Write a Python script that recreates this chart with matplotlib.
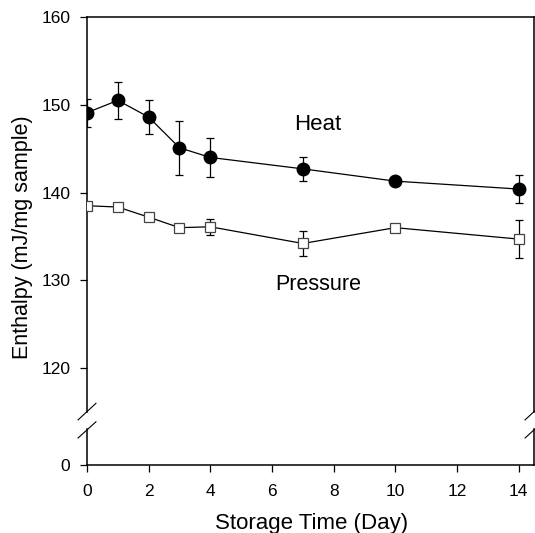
import matplotlib.pyplot as plt
import numpy as np

plt.rcParams['font.family'] = ['Liberation Sans', 'DejaVu Sans']

days = np.array([0, 1, 2, 3, 4, 7, 10, 14])

heat = np.array([149.1, 150.5, 148.6, 145.1, 144.0, 142.7, 141.3, 140.4])
heat_err = np.array([1.6, 2.1, 1.95, 3.05, 2.2, 1.4, 0.3, 1.55])

pressure = np.array([138.5, 138.35, 137.2, 136.0, 136.1, 134.2, 136.0, 134.7])
pressure_err = np.array([0.3, 0.3, 0.4, 0.4, 0.9, 1.4, 0.3, 2.15])

fig = plt.figure(figsize=(5.35, 5.33), dpi=100)
W, H = 535, 533
left, right = 87 / W, 534 / W
ax = fig.add_axes([left, 1 - 412 / H, right - left, (412 - 17) / H])
ax2 = fig.add_axes([left, 1 - 465 / H, right - left, (465 - 429) / H])

ax.errorbar(days, heat, yerr=heat_err, fmt='-o', color='black', lw=0.9,
            ms=9, mfc='black', mec='black', ecolor='black', elinewidth=0.9,
            capsize=3, capthick=0.9, zorder=3)
ax.errorbar(days, pressure, yerr=pressure_err, fmt='-s', color='black', lw=0.9,
            ms=7.5, mfc='white', mec='#444444', mew=0.9, ecolor='black',
            elinewidth=0.9, capsize=3, capthick=0.9, zorder=3)

ax.set_xlim(0, 14.5)
ax.set_ylim(115, 160)
ax.set_yticks([120, 130, 140, 150, 160])
ax.spines['bottom'].set_visible(False)
ax.tick_params(axis='x', bottom=False, labelbottom=False)
ax.tick_params(axis='y', direction='out', length=5, width=0.9, labelsize=12.5, pad=7)

ax2.set_xlim(0, 14.5)
ax2.set_ylim(0, 4)
ax2.set_yticks([0])
ax2.set_xticks(range(0, 15, 2))
ax2.spines['top'].set_visible(False)
ax2.tick_params(axis='y', direction='out', length=5, width=0.9, labelsize=12.5, pad=7)
ax2.tick_params(axis='x', direction='out', length=5, width=0.9, labelsize=12.5, pad=9)

for a in (ax, ax2):
    for s in a.spines.values():
        s.set_linewidth(1.1)

# break marks
kw = dict(color='black', lw=0.8, clip_on=False)
for xx in (0, 1):
    ax.plot([xx - 0.02, xx + 0.02], [-0.02, 0.022], transform=ax.transAxes, **kw)
    ax2.plot([xx - 0.02, xx + 0.02], [0.75, 1.2], transform=ax2.transAxes, **kw)

ax.text(7.5, 147.8, 'Heat', fontsize=16, ha='center', va='center')
ax.text(7.5, 129.5, 'Pressure', fontsize=15.5, ha='center', va='center')

fig.text(23 / W, 1 - 237 / H, 'Enthalpy (mJ/mg sample)', rotation=90,
         fontsize=15.5, ha='center', va='center')
fig.text(312 / W, 1 - 523 / H, 'Storage Time (Day)', fontsize=16,
         ha='center', va='center')

fig.savefig('out.png', dpi=100)
